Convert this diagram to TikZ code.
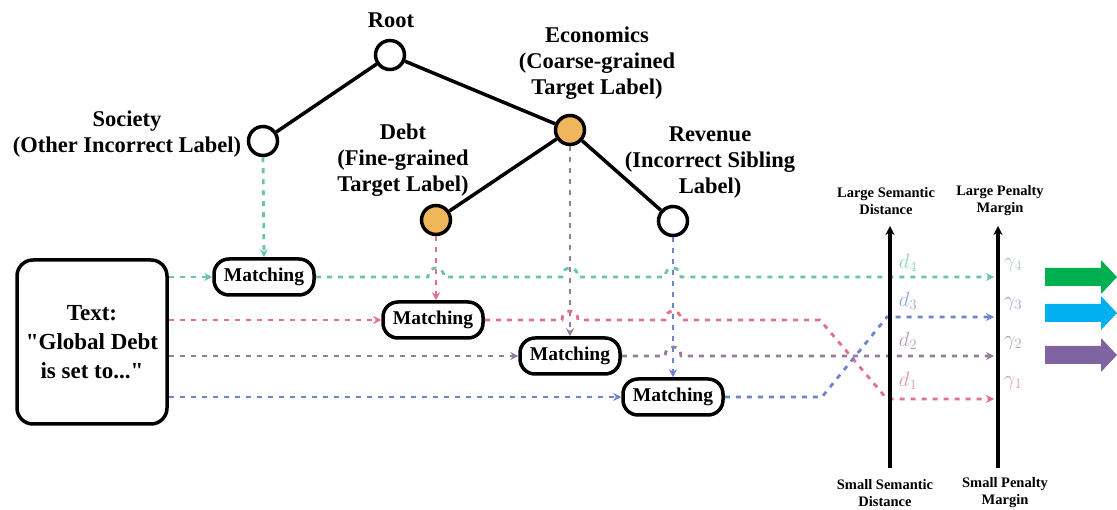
\documentclass[tikz,border=0pt]{standalone}
\usepackage{fontspec}
\setmainfont{Liberation Serif}[Ligatures=TeXOff]
\usetikzlibrary{arrows.meta}

\definecolor{nodeorange}{RGB}{240,182,92}
\definecolor{flowteal}{RGB}{105,195,175}
\definecolor{flowred}{RGB}{228,112,135}
\definecolor{flowpurple}{RGB}{150,125,155}
\definecolor{flowblue}{RGB}{110,132,205}
\definecolor{biggreen}{RGB}{0,176,80}
\definecolor{bigcyan}{RGB}{0,176,240}
\definecolor{bigpurple}{RGB}{128,100,162}

\begin{document}
\begin{tikzpicture}[x=1pt,y=-1pt,
  treenode/.style={circle,draw=black,line width=3.5pt,minimum size=29pt,inner sep=0pt,fill=white},
  target/.style={treenode,fill=nodeorange},
  treeedge/.style={line width=3.5pt},
  lbl/.style={font=\bfseries\fontsize{22.5}{26}\selectfont,align=center,inner sep=0pt},
  matchbox/.style={draw=black,line width=3.5pt,rounded corners=15pt,minimum width=100pt,
    minimum height=36pt,inner sep=0pt,fill=white,font=\bfseries\fontsize{19.5}{22}\selectfont},
  flow/.style={line width=2.8pt,dash pattern=on 5pt off 6pt,-{Stealth[length=8pt,width=8pt]}},
  axis/.style={line width=3.5pt,-{Stealth[length=9pt,width=9pt]}},
  axlbl/.style={font=\bfseries\fontsize{14.5}{17}\selectfont,align=center,inner sep=0pt},
  mlbl/.style={font=\fontsize{22}{26}\selectfont,inner sep=0pt},
]
\useasboundingbox (0,0) rectangle (1117,510);

% ---------- label hierarchy ----------
\node[treenode] (root) at (390,55) {};
\node[treenode] (soc)  at (263,141) {};
\node[target]   (eco)  at (570,130) {};
\node[target]   (deb)  at (436,220) {};
\node[treenode] (rev)  at (673,221) {};

\draw[treeedge] (root) -- (soc);
\draw[treeedge] (root) -- (eco);
\draw[treeedge] (eco) -- (deb);
\draw[treeedge] (eco) -- (rev);

\node[lbl] (rootlbl) at (391,20) {Root};
\node[lbl] (soclbl) at (127,134) {Society\\(Other Incorrect Label)};
\node[lbl] (ecolbl) at (597,63) {Economics\\(Coarse-grained\\Target Label)};
\node[lbl] (deblbl) at (403,160) {Debt\\(Fine-grained\\Target Label)};
\node[lbl] (revlbl) at (710,163) {Revenue\\(Incorrect Sibling\\Label)};

% ---------- input text and matching units ----------
\node[draw=black,line width=3.5pt,rounded corners=16pt,minimum width=150pt,minimum height=164pt,
  inner sep=0pt,align=center,font=\bfseries\fontsize{23}{29}\selectfont] (tb) at (92,342)
  {Text:\\"Global Debt\\is set to..."};

\node[matchbox] (m1) at (264,277) {Matching};
\node[matchbox] (m2) at (433,320) {Matching};
\node[matchbox] (m3) at (570,356) {Matching};
\node[matchbox] (m4) at (673,397) {Matching};

% label embeddings flowing down to the matching units
\draw[flow,flowteal]   (soc.south) -- (m1.north);
\draw[flow,flowred]    (deb.south) -- (deb.south |- m2.north);
\draw[flow,flowpurple] (eco.south) -- (m3.north);
\draw[flow,flowblue]   (rev.south) -- (m4.north);

% text embedding into every matching unit
\draw[flow,flowteal]   (tb.east |- m1.west) -- (m1.west);
\draw[flow,flowred]    (tb.east |- m2.west) -- (m2.west);
\draw[flow,flowpurple] (tb.east |- m3.west) -- (m3.west);
\draw[flow,flowblue]   (tb.east |- m4.west) -- (m4.west);

% ---------- distance and margin scales ----------
\coordinate (sdlo) at (890,468);
\coordinate (sdhi) at (890,226);
\coordinate (pmlo) at (998,468);
\coordinate (pmhi) at (998,226);

\coordinate (g4) at (994,277);
\coordinate (g3) at (994,317);
\coordinate (g2) at (994,356);
\coordinate (g1) at (994,399);

% matching scores routed to the scales (with hops over crossing lines)
\draw[flow,flowteal] (m1.east) -- (428,277) .. controls (428,265) and (444,265) .. (444,277)
  -- (562,277) .. controls (562,265) and (578,265) .. (578,277)
  -- (665,277) .. controls (665,265) and (681,265) .. (681,277) -- (g4);
\draw[flow,flowred] (m2.east) -- (562,320) .. controls (562,308) and (578,308) .. (578,320)
  -- (665,320) .. controls (665,308) and (681,308) .. (681,320)
  -- (820,320) -- (887,399) -- (g1);
\draw[flow,flowpurple] (m3.east) -- (665,356) .. controls (665,344) and (681,344) .. (681,356) -- (g2);
\draw[flow,flowblue] (m4.east) -- (822,397) -- (887,317) -- (g3);

\draw[axis] (sdlo) -- (sdhi);
\draw[axis] (pmlo) -- (pmhi);

\node[axlbl] (sdtop) at (886,201) {Large Semantic\\Distance};
\node[axlbl] (pmtop) at (1000,201) {Large Penalty\\Margin};
\node[axlbl] (sdbot) at (885,493) {Small Semantic\\Distance};
\node[axlbl] (pmbot) at (1005,493) {Small Penalty\\Margin};

\node[mlbl,text=flowteal!75]   (d4) at (908,263) {$d_4$};
\node[mlbl,text=flowblue!75]   (d3) at (908,301) {$d_3$};
\node[mlbl,text=flowpurple!75] (d2) at (908,341) {$d_2$};
\node[mlbl,text=flowred!75]    (d1) at (908,381) {$d_1$};

\node[mlbl,text=flowteal!75]   (y4) at (1013,265) {$\gamma_4$};
\node[mlbl,text=flowblue!75]   (y3) at (1013,304) {$\gamma_3$};
\node[mlbl,text=flowpurple!75] (y2) at (1013,343) {$\gamma_2$};
\node[mlbl,text=flowred!75]    (y1) at (1013,383) {$\gamma_1$};

% ---------- block arrows ----------
\fill[biggreen]  (1045,268) -- (1101,268) -- (1101,260) -- (1117,277) -- (1101,294) -- (1101,286) -- (1045,286) -- cycle;
\fill[bigcyan]   (1045,304) -- (1101,304) -- (1101,296) -- (1117,313) -- (1101,330) -- (1101,322) -- (1045,322) -- cycle;
\fill[bigpurple] (1045,346) -- (1101,346) -- (1101,338) -- (1117,355) -- (1101,372) -- (1101,364) -- (1045,364) -- cycle;
\end{tikzpicture}
\end{document}
